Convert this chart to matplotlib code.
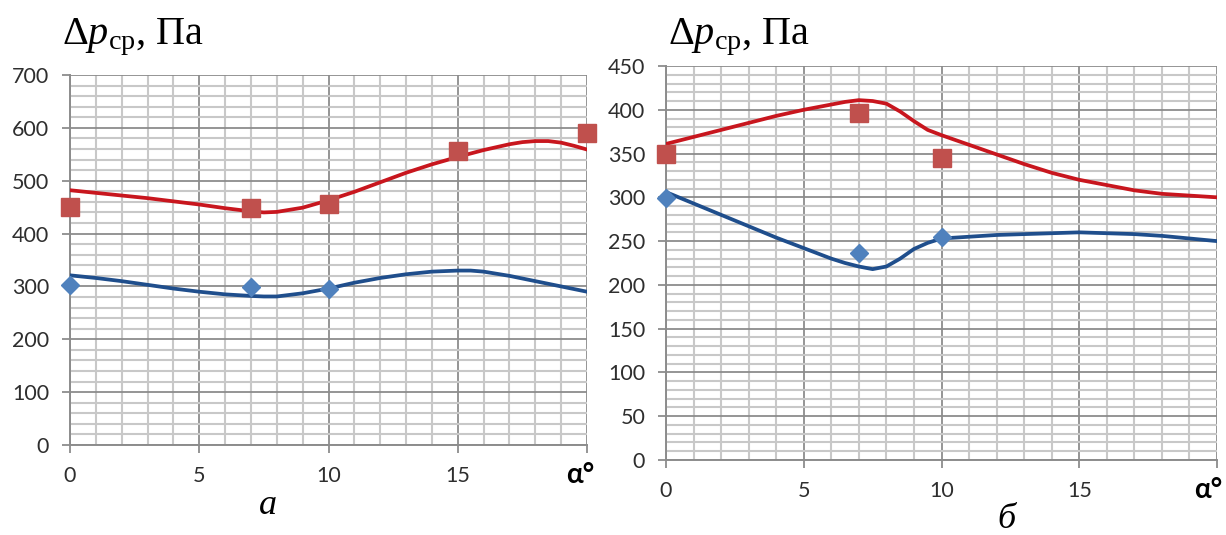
import numpy as np
import matplotlib.pyplot as plt
from matplotlib.ticker import MultipleLocator, FixedLocator

plt.rcParams['mathtext.fontset'] = 'custom'
plt.rcParams['mathtext.rm'] = 'Liberation Serif'
plt.rcParams['mathtext.it'] = 'Liberation Serif:italic'

# measured points (markers)
pts_x_a = [0, 7, 10, 15, 20]
red_pts_a = [450, 449, 456, 556, 591]
blue_pts_x_a = [0, 7, 10]
blue_pts_a = [302, 299, 295]

pts_x_b = [0, 7, 10]
red_pts_b = [350, 396, 345]
blue_pts_b = [299, 236, 255]

# smoothed trend curves
red_x_a = [0, 1, 2, 3, 4, 5, 6, 7, 7.5, 8, 9, 10, 11, 12, 13, 14, 15, 16, 17, 17.5, 18, 18.5, 19, 19.5, 20]
red_line_a = [482, 477, 472, 467, 461, 455, 448, 442, 440, 441, 449, 463, 479, 497,
              515, 531, 545, 558, 569, 573, 575, 575, 572, 566, 559]
blue_x_a = [0, 1, 2, 3, 4, 5, 6, 7, 7.5, 8, 9, 10, 11, 12, 13, 14, 14.5, 15, 15.5, 16, 17, 18, 19, 20]
blue_line_a = [321, 316, 310, 303, 296, 290, 285, 282, 281, 281, 287, 296, 307, 316,
               323, 328, 329, 330, 330, 328, 320, 310, 300, 290]
red_x_b = [0, 1, 2, 3, 4, 5, 6, 6.5, 7, 7.5, 8, 8.5, 9, 9.5, 10, 11, 12, 13, 14, 15, 16, 17, 18, 19, 20]
red_line_b = [361, 369, 377, 385, 393, 400, 406, 409, 411, 410, 407, 398, 387, 377, 371,
              360, 349, 338, 328, 320, 314, 308, 304, 302, 300]
blue_x_b = [0, 1, 2, 3, 4, 5, 6, 6.5, 7, 7.5, 8, 8.5, 9, 9.5, 10, 11, 12, 13, 14, 15, 16, 17, 18, 19, 20]
blue_line_b = [306, 293, 280, 267, 254, 242, 230, 225, 221, 218, 221, 230, 241, 248, 253,
               255, 257, 258, 259, 260, 259, 258, 256, 253, 250]

x_ticks = [0, 5, 10, 15, 20]
x_labels = ['0', '5', '10', '15', '']

RED_LINE = '#C8161E'
RED_MK = '#C0504D'
BLUE_LINE = '#1F4E8C'
BLUE_MK = '#4F81BD'

fig = plt.figure(figsize=(12.26, 5.35), dpi=100)
ax1 = fig.add_axes([70/1226, 1-445/535, 517/1226, 370/535])
ax2 = fig.add_axes([666/1226, 1-460/535, 551/1226, 394/535])


def style_axes(ax, ymax, ymaj, ymin_step):
    ax.set_xlim(0, 20)
    ax.set_ylim(0, ymax)
    ax.xaxis.set_major_locator(FixedLocator(x_ticks))
    ax.xaxis.set_minor_locator(MultipleLocator(1))
    ax.yaxis.set_major_locator(MultipleLocator(ymaj))
    ax.yaxis.set_minor_locator(MultipleLocator(ymin_step))
    ax.grid(which='minor', color='#c8c8c8', linewidth=1.5)
    ax.grid(which='major', color='#8c8c8c', linewidth=1.3)
    ax.set_axisbelow(True)
    for s in ['top', 'right']:
        ax.spines[s].set_visible(False)
    for s in ['left', 'bottom']:
        ax.spines[s].set_color('#8c8c8c')
        ax.spines[s].set_linewidth(1.4)
    ax.tick_params(which='major', length=6, width=1.3, color='#8c8c8c',
                   labelsize=15.5, labelcolor='#2e2e2e', pad=9)
    ax.tick_params(which='minor', length=0)
    ax.set_xticklabels(x_labels, fontfamily='Lato')
    for lab in ax.get_yticklabels():
        lab.set_fontfamily('Lato')


style_axes(ax1, 700, 100, 20)
style_axes(ax2, 450, 50, 10)

ax1.plot(red_x_a, red_line_a, color=RED_LINE, lw=2.7, zorder=3)
ax1.plot(blue_x_a, blue_line_a, color=BLUE_LINE, lw=2.7, zorder=3)
ax1.plot(pts_x_a, red_pts_a, 's', color=RED_MK, ms=12.5, clip_on=False, zorder=4)
ax1.plot(blue_pts_x_a, blue_pts_a, 'D', color=BLUE_MK, ms=9, clip_on=False, zorder=4)

ax2.plot(red_x_b, red_line_b, color=RED_LINE, lw=2.7, zorder=3)
ax2.plot(blue_x_b, blue_line_b, color=BLUE_LINE, lw=2.7, zorder=3)
ax2.plot(pts_x_b, red_pts_b, 's', color=RED_MK, ms=12.5, clip_on=False, zorder=4)
ax2.plot(pts_x_b, blue_pts_b, 'D', color=BLUE_MK, ms=9, clip_on=False, zorder=4)

# alpha labels at the right end of the x axes
fig.text(580/1226, 1-475/535, '\u03b1\u00b0', fontsize=20, fontweight='bold',
         fontfamily='Lato', ha='center', va='center')
fig.text(1208/1226, 1-490/535, '\u03b1\u00b0', fontsize=20, fontweight='bold',
         fontfamily='Lato', ha='center', va='center')

title = r'$\Delta p_{\mathrm{ср}}$' + ', Па'
fig.text(62/1226, 1-44/535, title, fontsize=29, fontfamily='Liberation Serif',
         ha='left', va='baseline')
fig.text(668/1226, 1-44/535, title, fontsize=29, fontfamily='Liberation Serif',
         ha='left', va='baseline')

fig.text(268/1226, 1-505/535, 'а', fontsize=26, fontfamily='Liberation Serif',
         style='italic', ha='center', va='center')
fig.text(1006/1226, 1-520/535, 'б', fontsize=26, fontfamily='Liberation Serif',
         style='italic', ha='center', va='center')

fig.savefig('out.png', dpi=100)
